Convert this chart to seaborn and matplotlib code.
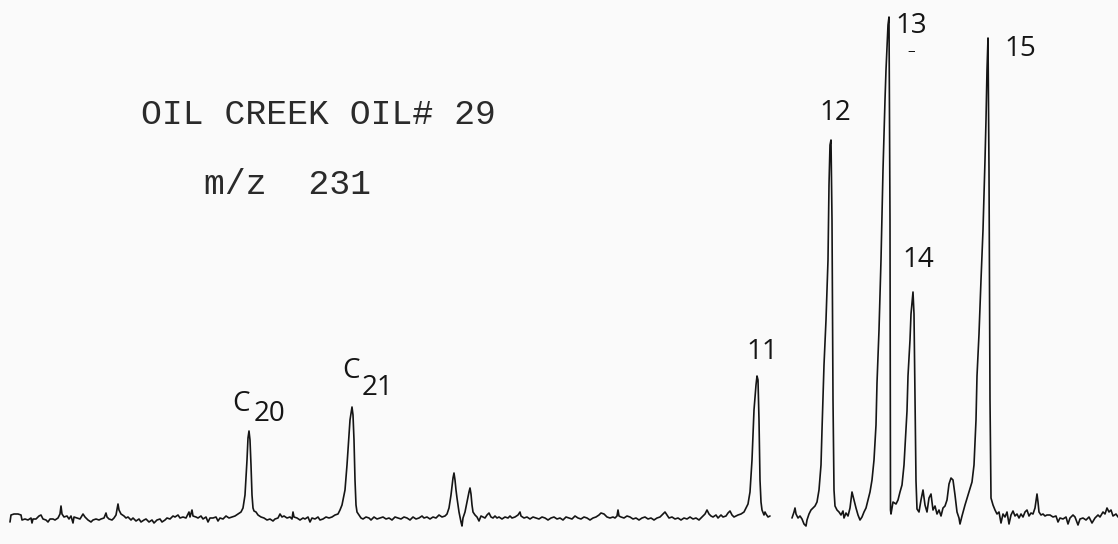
import matplotlib
matplotlib.use("Agg")
import matplotlib.pyplot as plt
import pandas as pd
import seaborn as sns

# ---- m/z 231 mass chromatogram, Oil Creek oil #29 ----
title = "OIL CREEK OIL# 29"
ion = "m/z  231"

# scan position and detector signal, first trace segment (C20 .. peak 11)
scan_a = [10, 11, 14, 18, 21, 22, 25, 28, 31, 32, 33, 36, 39, 41, 43, 46, 48, 50, 53, 55,
          58, 60, 61, 62, 64, 67, 69, 71, 73, 74, 77, 80, 83, 85, 88, 91, 93, 96, 99, 101,
          104, 106, 107, 109, 112, 114, 116, 118, 119, 121, 124, 126, 128, 131, 133, 136, 139, 141, 144, 146,
          149, 152, 154, 157, 160, 162, 165, 167, 170, 173, 175, 178, 180, 183, 186, 189, 190, 192, 193, 196,
          198, 201, 203, 206, 208, 210, 213, 216, 218, 220, 223, 226, 229, 232, 235, 238, 241, 243, 245, 247,
          248, 249, 250, 251, 252, 253, 254, 256, 258, 261, 264, 267, 270, 273, 275, 278, 280, 282, 284, 287,
          290, 292, 293, 294, 297, 300, 303, 305, 308, 310, 312, 315, 318, 320, 323, 326, 329, 332, 335, 338,
          340, 342, 345, 347, 349, 350, 352, 353, 354, 355, 356, 357, 359, 361, 363, 366, 369, 371, 374, 377,
          380, 383, 386, 389, 392, 395, 398, 401, 404, 407, 410, 413, 416, 419, 422, 424, 427, 430, 433, 436,
          439, 442, 445, 447, 449, 451, 453, 454, 455, 456, 457, 459, 461, 462, 463, 465, 467, 469, 470, 471,
          472, 473, 475, 477, 479, 481, 483, 485, 487, 489, 491, 493, 495, 497, 499, 502, 505, 508, 510, 512,
          515, 518, 520, 521, 524, 527, 530, 533, 536, 539, 542, 545, 548, 551, 554, 557, 560, 563, 566, 569,
          572, 575, 578, 581, 584, 587, 590, 593, 596, 599, 601, 604, 607, 610, 613, 615, 617, 618, 619, 621,
          624, 627, 630, 633, 636, 639, 642, 645, 648, 651, 654, 657, 660, 663, 665, 667, 669, 672, 675, 678,
          681, 684, 687, 690, 693, 696, 699, 702, 705, 707, 709, 711, 713, 716, 718, 721, 723, 726, 728, 730,
          732, 734, 736, 738, 741, 744, 746, 748, 750, 752, 754, 756, 757, 758, 759, 760, 761, 762, 764, 765,
          766, 768, 770]
signal_a = [-2, 5, 6, 6, 5, 0, 1, 0, 2, -3, 1, 1, 4, 5, 1, 0, -2, 1, 1, 0,
            2, 6, 14, 6, 3, 4, 1, 4, -3, 3, 2, 1, 6, 3, 0, -2, 0, 1, 0, 1,
            2, 7, 3, 1, 0, 2, 5, 16, 10, 6, 4, 2, 3, 0, 2, -1, 1, -2, 0, 1,
            -2, 0, -3, 0, 1, -2, 0, 2, 1, 4, 3, 5, 2, 3, 2, 8, 3, 10, 4, 3,
            2, 4, 1, 3, -2, 2, 2, 3, -1, 2, 1, 4, 2, 3, 4, 6, 8, 12, 25, 60,
            82, 89, 80, 55, 25, 12, 9, 8, 5, 3, 2, 0, 1, -1, 1, 2, 6, 3, 4, 2,
            3, 1, 8, 3, 2, 0, 2, 1, 3, -2, 2, 1, 3, 0, 1, 3, 2, 3, 5, 6,
            10, 15, 30, 55, 85, 100, 113, 105, 80, 40, 15, 8, 5, 2, 1, 3, 2, 0, 3, 1,
            2, 3, 1, 2, 0, 3, 2, 1, 3, 2, 0, 3, 1, 2, 4, 2, 3, 1, 3, 2,
            5, 3, 4, 6, 12, 25, 42, 47, 40, 30, 22, 8, -2, -6, 2, 8, 18, 28, 32, 26,
            15, 8, 5, 3, -1, 4, 3, 2, 5, 7, 3, 2, 4, 2, 3, 1, 3, 2, 4, 2,
            3, 5, 8, 4, 2, 3, 1, 3, 2, 1, 3, 2, 0, 2, 3, 1, 2, 0, 3, 2,
            1, 4, 2, 1, 3, 2, 0, 2, 3, 5, 7, 6, 3, 2, 3, 2, 4, 10, 4, 3,
            2, 4, 3, 1, 2, 0, 2, 3, 1, 2, 0, 2, 3, 6, 8, 5, 2, 3, 1, 2,
            0, 2, 1, 3, 1, 2, 0, 3, 6, 10, 6, 4, 3, 5, 2, 5, 3, 4, 7, 9,
            5, 3, 4, 5, 6, 8, 12, 16, 28, 60, 110, 135, 144, 140, 100, 40, 18, 10, 5, 8,
            6, 3, 4]

# second trace segment after the pen gap (peaks 12 .. 15)
scan_b = [792, 794, 795, 796, 798, 800, 802, 804, 806, 807, 809, 811, 813, 815, 817, 819, 821, 822, 824, 826,
          828, 829, 830, 831, 832, 833, 834, 835, 837, 839, 841, 843, 844, 846, 848, 850, 852, 854, 856, 858,
          860, 862, 864, 866, 868, 870, 872, 874, 876, 877, 879, 881, 883, 885, 886, 888, 889, 890, 890.5, 891,
          893, 896, 898, 900, 902, 904, 906, 907, 908, 910, 911, 913, 914, 915, 916, 917, 919, 921, 923, 925,
          927, 929, 931, 933, 935, 937, 939, 941, 943, 945, 947, 949, 951, 953, 955, 957, 959, 960, 962, 965,
          968, 970, 972, 974, 976, 977, 979, 981, 983, 985, 986, 987, 988, 989, 990, 991, 993, 995, 997, 999,
          1001, 1003, 1005, 1007, 1009, 1011, 1013, 1015, 1017, 1019, 1021, 1023, 1025, 1027, 1029, 1031, 1033, 1035, 1037, 1038,
          1039, 1041, 1043, 1045, 1047, 1050, 1053, 1056, 1058, 1060, 1063, 1066, 1068, 1070, 1073, 1075, 1078, 1080, 1083, 1086,
          1089, 1092, 1095, 1098, 1100, 1103, 1105, 1107, 1109, 1111, 1113, 1116, 1118]
signal_b = [2, 8, 12, 6, 2, 4, 1, -4, -6, 0, 6, 10, 12, 14, 18, 30, 55, 90, 155, 200,
            260, 335, 375, 380, 300, 120, 30, 14, 10, 8, 5, 9, 2, 7, 4, 12, 28, 20, 12, 5,
            0, 3, 8, 12, 20, 28, 40, 60, 95, 137, 190, 260, 350, 420, 450, 495, 503, 300, 10, 6,
            18, 16, 20, 28, 35, 55, 90, 109, 144, 180, 206, 228, 206, 120, 39, 11, 8, 20, 30, 15,
            8, 22, 26, 10, 14, 6, 10, 4, 12, 14, 20, 36, 42, 40, 25, 8, 2, -4, 4, 15,
            25, 32, 38, 55, 100, 144, 186, 240, 290, 360, 400, 450, 482, 350, 120, 22, 15, 10, 6, 8,
            -3, 6, 3, 8, -4, 5, 9, 4, 6, 2, 6, 3, 8, 10, 4, 7, 6, 12, 26, 18,
            8, 5, 6, 4, 5, 5, 3, 4, -2, 2, 1, 3, -4, 2, 5, 3, -5, 1, 2, 0,
            3, -3, 2, 5, 3, 8, 6, 12, 8, 10, 4, 6, 3]

# peak identifications
peak_ids = ["11", "12", "13", "14", "15"]
carbon_labels = [("C", "20"), ("C", "21")]

PAPER = "#fafafa"
INK = "#151515"

sns.set_theme(style="white")
plt.rcParams["font.family"] = ["DejaVu Sans"]

fig = plt.figure(figsize=(11.18, 5.44), dpi=100, facecolor=PAPER)
ax = fig.add_axes([0, 0, 1, 1])
ax.set_facecolor(PAPER)

trace = pd.concat([
    pd.DataFrame({"scan": scan_a, "signal": signal_a, "segment": 0}),
    pd.DataFrame({"scan": scan_b, "signal": signal_b, "segment": 1}),
], ignore_index=True)

sns.lineplot(data=trace, x="scan", y="signal", units="segment", estimator=None,
             sort=False, color=INK, linewidth=1.2, ax=ax, legend=False, zorder=3)

ax.set_xlim(0, 1118)
ax.set_ylim(-24, 520)
ax.axis("off")

# typewritten header
mono = ["Liberation Mono", "DejaVu Sans Mono"]
ax.text(141, 405, title, fontsize=25, family=mono, color="#2a2a2a", va="center", ha="left")
ax.text(204, 335, ion, fontsize=25, family=mono, color="#2a2a2a", va="center", ha="left")

# numbered peaks
lab_font = ["Open Sans", "DejaVu Sans"]
peak_pos = [(762, 168), (835, 407), (911, 494), (918, 260), (1020, 471)]
for name, (px, py) in zip(peak_ids, peak_pos):
    ax.text(px, py, name, fontsize=20, family=lab_font, color=INK, ha="center", va="center")
ax.text(911, 468, "\u2013", fontsize=11, family=lab_font, color=INK, ha="center", va="center")

# carbon-number labels: letter with a lowered number beside it
carbon_pos = [((232, 116), (254, 106)), ((342, 149), (362, 132))]
for (c, n), ((cx, cy), (nx, ny)) in zip(carbon_labels, carbon_pos):
    ax.text(cx, cy, c, fontsize=20, family=lab_font, color=INK, ha="left", va="center")
    ax.text(nx, ny, n, fontsize=20, family=lab_font, color=INK, ha="left", va="center")

fig.savefig("out.png", dpi=100, facecolor=PAPER)
